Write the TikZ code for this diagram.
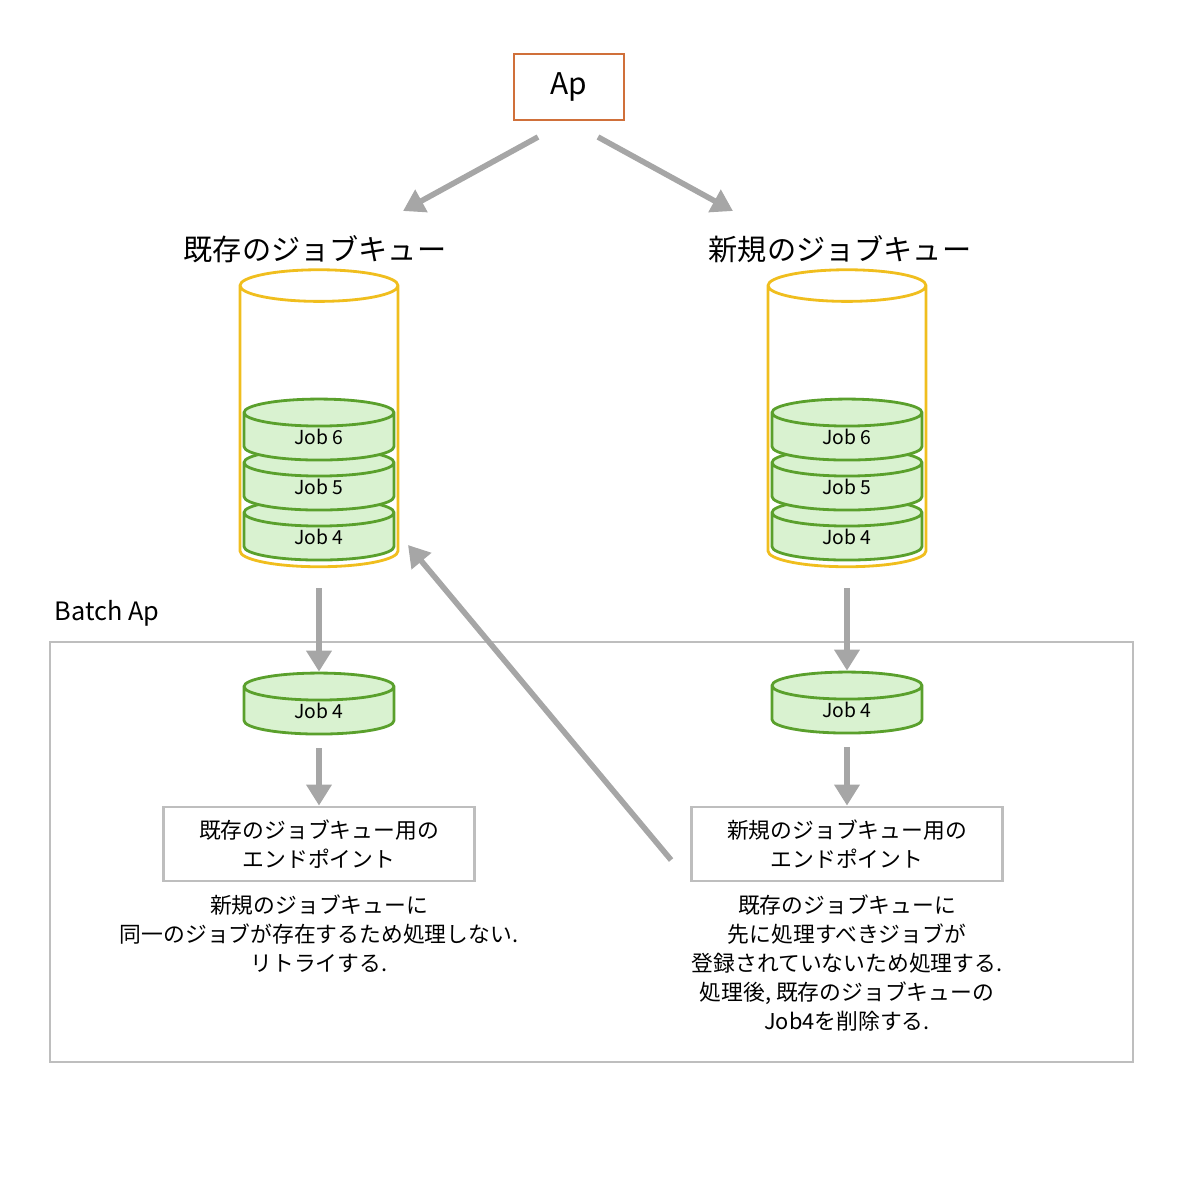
\documentclass[tikz,border=0pt]{standalone}
\usepackage{fontspec}
\setmainfont{Noto Sans CJK JP}
\usetikzlibrary{shapes,arrows.meta,positioning,fit,calc}

\begin{document}
\begin{tikzpicture}[x=1cm,y=1cm, every node/.style={font=\fontsize{6.2}{8.2}\selectfont}]
        \definecolor{apline}{RGB}{208,112,58}
        \definecolor{queueline}{RGB}{240,190,30}
        \definecolor{jobline}{RGB}{90,160,44}
        \definecolor{jobfill}{RGB}{217,242,208}
        \definecolor{arrowgray}{RGB}{166,166,166}
        \definecolor{boxgray}{RGB}{190,190,190}
        \tikzset{
            queue/.style={cylinder, shape border rotate=90, draw=queueline, thick, fill=white, minimum width=1.58cm, minimum height=2.97cm, aspect=1.35},
            job/.style={cylinder, shape border rotate=90, draw=jobline, thick, fill=jobfill, minimum width=1.5cm, minimum height=0.61cm, aspect=0.55, inner sep=0pt, font=\fontsize{5.5}{6}\selectfont},
            flow/.style={-{Triangle[length=6pt,width=7pt]}, line width=1.6pt, arrowgray},
            endpoint/.style={draw=boxgray, thick, minimum width=3.11cm, minimum height=0.74cm, align=center}
        }
        \useasboundingbox (0,0) rectangle (12,-12);

        % Ap box
        \node[draw=apline, thick, minimum width=1.1cm, minimum height=0.66cm, font=\fontsize{8.5}{10}\selectfont] (ap) at (5.69,-0.87) {Ap};

        % queue titles
        \node[font=\fontsize{8.3}{10}\selectfont] (oldtitle) at (3.15,-2.49) {既存のジョブキュー};
        \node[font=\fontsize{8.3}{10}\selectfont] (newtitle) at (8.40,-2.49) {新規のジョブキュー};
        \coordinate (oldin) at (4.03,-2.11);
        \coordinate (newin) at (7.33,-2.11);
        \draw[flow] (5.38,-1.37) -- (oldin);
        \draw[flow] (5.98,-1.37) -- (newin);

        % queues
        \node[queue] (oldq) at (3.19,-4.31) {};
        \node[queue] (newq) at (8.47,-4.31) {};

        % jobs in queues
        \node[job] (oldjob4) at (3.19,-5.37) {Job 4};
        \node[job] (oldjob5) at (3.19,-4.87) {Job 5};
        \node[job] (oldjob6) at (3.19,-4.37) {Job 6};
        \node[job] (newjob4) at (8.47,-5.37) {Job 4};
        \node[job] (newjob5) at (8.47,-4.87) {Job 5};
        \node[job] (newjob6) at (8.47,-4.37) {Job 6};

        % Batch Ap frame
        \node[draw=boxgray, thick, minimum width=10.83cm, minimum height=4.2cm] (batch) at (5.915,-8.52) {};
        \node[anchor=south west, font=\fontsize{7.2}{8}\selectfont, inner sep=0pt] (batchlabel) at (0.54,-6.27) {Batch Ap};

        % fetched jobs
        \node[job] (oldtake) at (3.19,-7.11) {Job 4};
        \node[job] (newtake) at (8.47,-7.10) {Job 4};
        \draw[flow] (oldq.south) ++(0,-0.2) -- (oldtake.north);
        \draw[flow] (newq.south) ++(0,-0.2) -- (newtake.north);

        % endpoints
        \node[endpoint] (oldend) at (3.19,-8.44) {既存のジョブキュー用の\\エンドポイント};
        \node[endpoint] (newend) at (8.47,-8.44) {新規のジョブキュー用の\\エンドポイント};
        \draw[flow] (oldtake.south) ++(0,-0.13) -- (oldend.north);
        \draw[flow] (newtake.south) ++(0,-0.13) -- (newend.north);

        % check back into existing queue
        \coordinate (checkin) at (4.08,-5.45);
        \draw[flow] (newend.west) ++(-0.19,-0.16) -- (checkin);

        % notes
        \node[below=0.12cm of oldend, align=center, inner sep=0pt] (oldnote) {新規のジョブキューに\\同一のジョブが存在するため処理しない.\\リトライする.};
        \node[below=0.12cm of newend, align=center, inner sep=0pt] (newnote) {既存のジョブキューに\\先に処理すべきジョブが\\登録されていないため処理する.\\処理後, 既存のジョブキューの\\Job4を削除する.};
    \end{tikzpicture}
\end{document}
